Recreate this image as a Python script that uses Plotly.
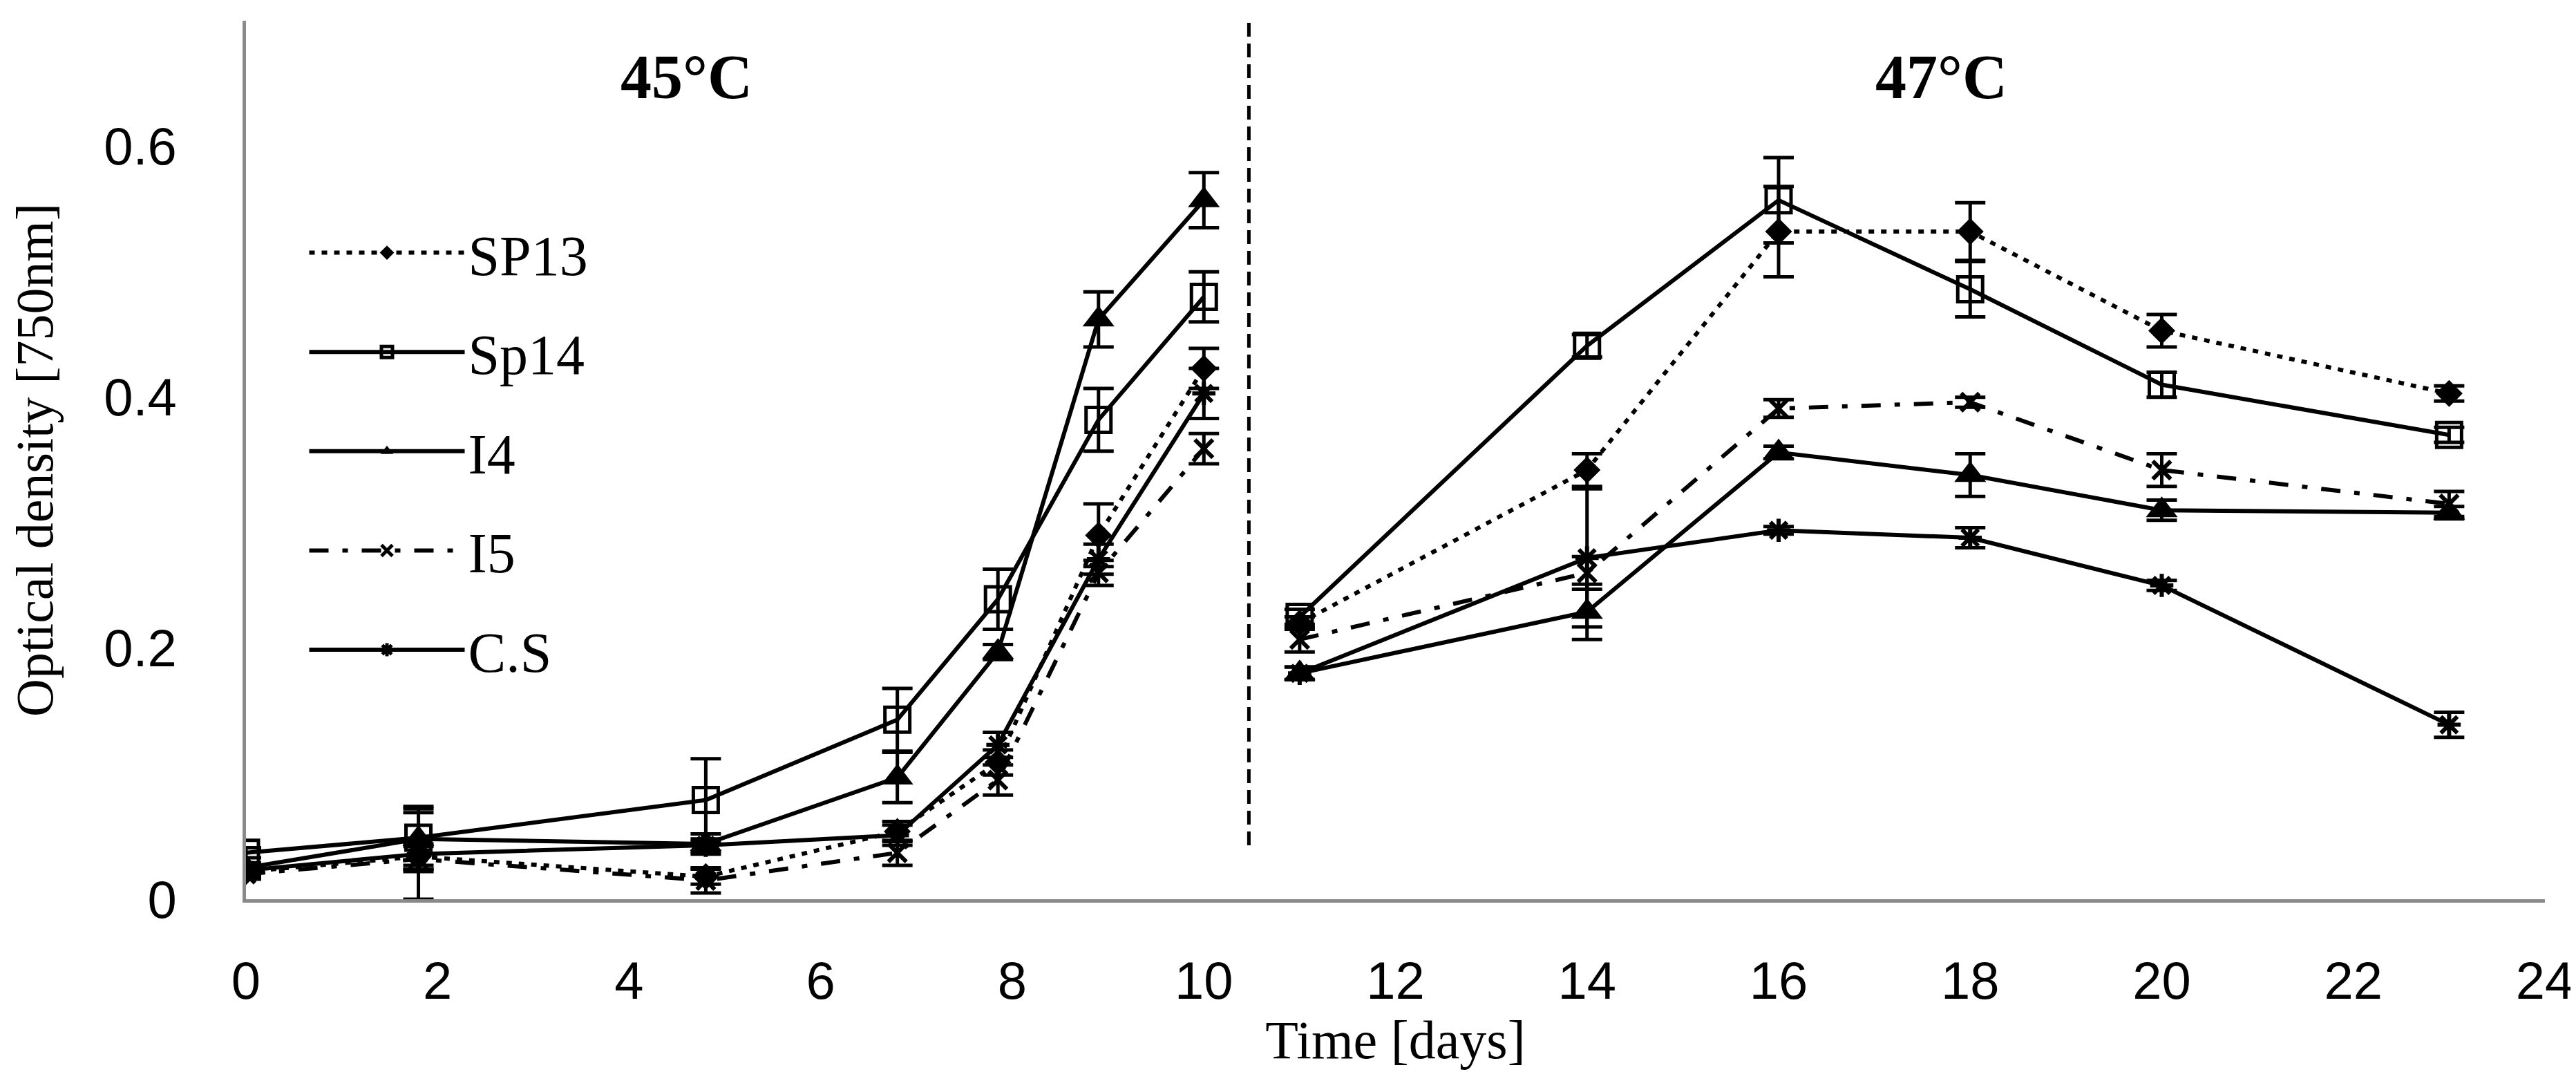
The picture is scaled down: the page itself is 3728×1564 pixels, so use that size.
import plotly.graph_objects as go

# sampling days, the two temperature phases are drawn as separate segments
DAYS_45 = [0, 1.8, 4.8, 6.8, 7.85, 8.9, 10]
DAYS_47 = [11, 14, 16, 18, 20, 23]

SERIES = ['SP13', 'Sp14', 'I4', 'I5', 'C.S']

# optical density at 750nm
SP13_45 = [0.022, 0.034, 0.018, 0.054, 0.109, 0.290, 0.423]
SP13_47 = [0.220, 0.342, 0.532, 0.532, 0.453, 0.403]
SP14_45 = [0.037, 0.049, 0.079, 0.143, 0.239, 0.382, 0.480]
SP14_47 = [0.225, 0.441, 0.557, 0.486, 0.410, 0.370]
I4_45 = [0.025, 0.048, 0.044, 0.097, 0.197, 0.462, 0.557]
I4_47 = [0.180, 0.229, 0.356, 0.338, 0.310, 0.308]
I5_45 = [0.020, 0.032, 0.015, 0.037, 0.095, 0.260, 0.359]
I5_47 = [0.207, 0.260, 0.391, 0.396, 0.342, 0.315]
CS_45 = [0.023, 0.036, 0.043, 0.051, 0.123, 0.271, 0.403]
CS_47 = [0.180, 0.272, 0.294, 0.288, 0.250, 0.139]

# error bars (+/-)
SP13_45_ERR = [0.004, 0.010, 0.006, 0.008, 0.010, 0.025, 0.016]
SP13_47_ERR = [0.005, 0.013, 0.036, 0.023, 0.013, 0.006]
SP14_45_ERR = [0.004, 0.025, 0.033, 0.025, 0.024, 0.025, 0.020]
SP14_47_ERR = [0.006, 0.009, 0.034, 0.022, 0.010, 0.006]
I4_45_ERR = [0.004, 0.021, 0.008, 0.020, 0.006, 0.022, 0.022]
I4_47_ERR = [0.005, 0.022, 0.005, 0.017, 0.008, 0.005]
I5_45_ERR = [0.004, 0.010, 0.010, 0.010, 0.012, 0.010, 0.012]
I5_47_ERR = [0.010, 0.013, 0.007, 0.004, 0.013, 0.010]
CS_45_ERR = [0.004, 0.036, 0.005, 0.008, 0.010, 0.012, 0.020]
CS_47_ERR = [0.005, 0.055, 0.003, 0.008, 0.004, 0.010]

Y_TICKS = [0, 0.2, 0.4, 0.6]
Y_TICK_LABELS = ['0', '0.2', '0.4', '0.6']
PHASE_LABELS = ['45°C', '47°C']
PHASE_LABEL_X = [4.6, 17.7]
PHASE_LABEL_Y = 0.655
SEPARATOR_DAY = 10.47
SEPARATOR_BOTTOM = 0.043

SERIF = 'Liberation Serif'
SANS = 'Liberation Sans'
AXIS_GREY = '#8a8a8a'

values = {
    'SP13': (SP13_45, SP13_47, SP13_45_ERR, SP13_47_ERR),
    'Sp14': (SP14_45, SP14_47, SP14_45_ERR, SP14_47_ERR),
    'I4': (I4_45, I4_47, I4_45_ERR, I4_47_ERR),
    'I5': (I5_45, I5_47, I5_45_ERR, I5_47_ERR),
    'C.S': (CS_45, CS_47, CS_45_ERR, CS_47_ERR),
}

styles = {
    'SP13': dict(dash='8px,10px', symbol='diamond', size=30, fill='black', mlw=0),
    'Sp14': dict(dash='solid', symbol='square-open', size=36, fill='black', mlw=5),
    'I4': dict(dash='solid', symbol='triangle-up', size=40, fill='black', mlw=0),
    'I5': dict(dash='28px,20px,8px,20px', symbol='x-thin-open', size=26, fill='black', mlw=6),
    'C.S': dict(dash='solid', symbol='asterisk-open', size=28, fill='black', mlw=6),
}

fig = go.Figure()

for name in SERIES:
    y45, y47, e45, e47 = values[name]
    st = styles[name]
    # None breaks the line between the two temperature phases
    x = DAYS_45 + [None] + DAYS_47
    y = y45 + [None] + y47
    err = e45 + [0] + e47
    fig.add_trace(go.Scatter(
        x=x, y=y, name=name, mode='lines+markers', legendgroup=name,
        line=dict(color='black', width=6, dash=st['dash']),
        marker=dict(symbol=st['symbol'], size=st['size'], color=st['fill'],
                    line=dict(color='black', width=st['mlw'])),
        error_y=dict(type='data', array=err, visible=True, color='black',
                     thickness=5, width=22),
        connectgaps=False,
    ))

fig.add_shape(type='line', xref='x', yref='y', x0=SEPARATOR_DAY, x1=SEPARATOR_DAY,
              y0=SEPARATOR_BOTTOM, y1=0.7,
              line=dict(color='black', width=5, dash='20px,10px'))

for label, lx in zip(PHASE_LABELS, PHASE_LABEL_X):
    fig.add_annotation(x=lx, y=PHASE_LABEL_Y, xref='x', yref='y', text='<b>' + label + '</b>',
                       showarrow=False, font=dict(family=SERIF, size=90, color='black'))

fig.update_layout(
    width=3728, height=1564,
    paper_bgcolor='white', plot_bgcolor='white',
    margin=dict(l=348, r=53, t=22, b=271, autoexpand=False),
    showlegend=True,
    legend=dict(x=0.026, y=0.783, xanchor='left', yanchor='top',
                font=dict(family=SERIF, size=82, color='black'),
                itemwidth=225, tracegroupgap=34, bgcolor='rgba(0,0,0,0)'),
)

fig.update_xaxes(
    range=[0, 24], dtick=2, tick0=0, showgrid=False, zeroline=False,
    showline=True, linecolor=AXIS_GREY, linewidth=5, ticks='',
    ticklabelstandoff=48,
    tickfont=dict(family=SANS, size=76, color='black'),
    title=dict(text='Time [days]', font=dict(family=SERIF, size=78, color='black'), standoff=18),
)
fig.update_yaxes(
    range=[0, 0.7], tickvals=Y_TICKS, ticktext=Y_TICK_LABELS, showgrid=False, zeroline=False,
    showline=True, linecolor=AXIS_GREY, linewidth=5, ticks='',
    ticklabelstandoff=80,
    tickfont=dict(family=SANS, size=76, color='black'),
    title=dict(text='Optical density [750nm]', font=dict(family=SERIF, size=76, color='black'),
               standoff=60),
)

fig.write_html('out.html')
